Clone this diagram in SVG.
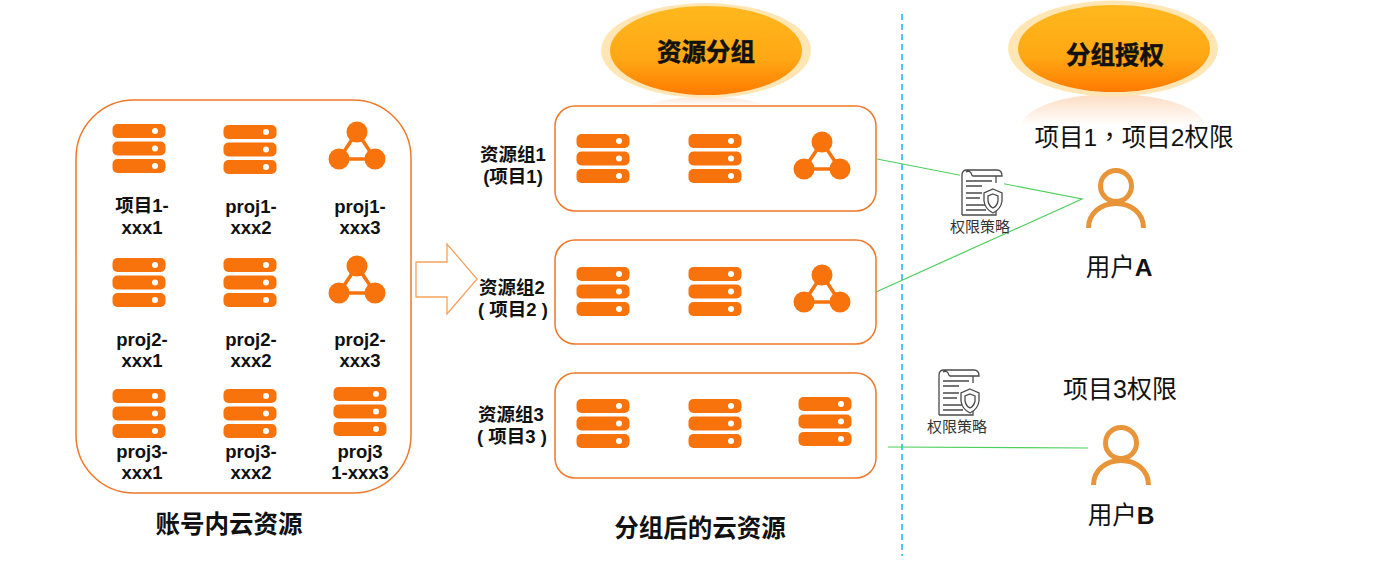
<svg xmlns="http://www.w3.org/2000/svg" width="1400" height="561" viewBox="0 0 1400 561">
<style>
text{font-family:"Liberation Sans","Noto Sans CJK SC",sans-serif;fill:#111;text-anchor:middle}
.b{font-weight:700}
.s16{font-size:18.5px}
.s22{font-size:24.500px}
.cap{font-size:15px;fill:#333}
.panel{fill:#fff;stroke:#f0782a;stroke-width:1.5}
.link{fill:none;stroke:#4ccf5c;stroke-width:1.2}
.ink{fill:none;stroke:#4a4a4a;stroke-width:1.3}
.user{fill:none;stroke:#e8953a;stroke-width:5}
.bar{fill:#f9730c}
</style>
<defs>
<symbol id="server" overflow="visible">
<rect class="bar" x="-.5" y="0" width="53" height="14" rx="5"/><circle cx="42" cy="7" r="3" fill="#fff"/>
<rect class="bar" x="-.5" y="17.500" width="53" height="14" rx="5"/><circle cx="42" cy="24.500" r="3" fill="#fff"/>
<rect class="bar" x="-.5" y="35" width="53" height="14" rx="5"/><circle cx="42" cy="42" r="3" fill="#fff"/>
</symbol>
<symbol id="net" overflow="visible">
<path d="M0 0L-18 27H18Z" fill="none" stroke="#f9730c" stroke-width="3.500"/>
<circle cx="0" cy="0" r="10.500" fill="#f9730c"/><circle cx="-18" cy="27" r="10.500" fill="#f9730c"/><circle cx="18" cy="27" r="10.500" fill="#f9730c"/>
</symbol>
<symbol id="policy" overflow="visible">
<path class="ink" d="M1 46V6Q1 1 6 1H36Q41 1 41 7H12Q11 7 10 4Q8 1 5 3"/>
<path class="ink" d="M1 46H35V30M35 14V7"/>
<path class="ink" d="M5 12H31M5 17H21M5 24H21M5 29H19M5 36H24M5 41H25"/>
<path d="M32 20L41 24V32Q40 40 32 44Q24 40 23 32V24Z" fill="#fff" stroke="#4a4a4a" stroke-width="1.300"/>
<path class="ink" d="M32 25L37 27V32Q36 37 32 39Q28 37 27 32V27Z"/>
</symbol>
<symbol id="person" overflow="visible">
<circle cx="0" cy="0" r="15.500" class="user"/>
<path class="user" d="M-27.500 42C-27.500 27-15 17.500 0 17.500S27.500 27 27.500 42"/>
</symbol>
<linearGradient id="pill" x1="0" y1="0" x2="0" y2="1"><stop offset="0" stop-color="#ffb81e"/><stop offset=".6" stop-color="#ffa714"/><stop offset="1" stop-color="#ff7a00"/></linearGradient>
<linearGradient id="glow-a" gradientUnits="userSpaceOnUse" x1="0" y1="96" x2="0" y2="106"><stop offset="0" stop-color="#fbe3d0"/><stop offset="1" stop-color="#fff"/></linearGradient>
<linearGradient id="glow-b" gradientUnits="userSpaceOnUse" x1="0" y1="94" x2="0" y2="126"><stop offset="0" stop-color="#fcdcc2"/><stop offset="1" stop-color="#fff"/></linearGradient>
</defs>
<rect width="1400" height="561" fill="#fff"/>

<g id="divider"><path d="M902 14V556" fill="none" stroke="#19b4ef" stroke-width="1.500" stroke-dasharray="6 4"/></g>

<g id="badge-group">
<ellipse cx="706" cy="110" rx="62" ry="13" fill="url(#glow-a)"/>
<ellipse cx="706" cy="50.500" rx="105" ry="47.500" fill="#ffe6b4"/>
<ellipse cx="706" cy="50.500" rx="96" ry="44.500" fill="url(#pill)"/>
<text class="b" x="706" y="61" font-size="24.500" style="stroke:#111;stroke-width:.5">资源分组</text>
</g>
<g id="badge-auth">
<ellipse cx="1113" cy="127" rx="92" ry="33" fill="url(#glow-b)"/>
<rect x="1020" y="126" width="190" height="40" fill="#fff"/>
<ellipse cx="1113" cy="48.500" rx="105" ry="48" fill="#ffe6b4"/>
<ellipse cx="1114" cy="48.500" rx="96" ry="43.500" fill="url(#pill)"/>
<text class="b" x="1115" y="64" font-size="24.500" style="stroke:#111;stroke-width:.5">分组授权</text>
</g>

<g id="account-resources">
<rect class="panel" x="76" y="100" width="335" height="393" rx="58"/>
<use href="#server" x="113" y="124"/><use href="#server" x="224" y="125"/><use href="#net" x="357" y="132"/>
<use href="#server" x="113" y="258"/><use href="#server" x="224" y="258"/><use href="#net" x="357" y="266"/>
<use href="#server" x="113" y="389"/><use href="#server" x="224" y="389"/><use href="#server" x="334" y="387"/>
<text class="b s16" x="142" y="212">项目1-</text><text class="b s16" x="142" y="234">xxx1</text>
<text class="b s16" x="251" y="213">proj1-</text><text class="b s16" x="251" y="234">xxx2</text>
<text class="b s16" x="360" y="213">proj1-</text><text class="b s16" x="360" y="234">xxx3</text>
<text class="b s16" x="142" y="346">proj2-</text><text class="b s16" x="142" y="367">xxx1</text>
<text class="b s16" x="251" y="346">proj2-</text><text class="b s16" x="251" y="367">xxx2</text>
<text class="b s16" x="360" y="346">proj2-</text><text class="b s16" x="360" y="367">xxx3</text>
<text class="b s16" x="142" y="458">proj3-</text><text class="b s16" x="142" y="479">xxx1</text>
<text class="b s16" x="251" y="458">proj3-</text><text class="b s16" x="251" y="479">xxx2</text>
<text class="b s16" x="360" y="458">proj3</text><text class="b s16" x="360" y="479">1-xxx3</text>
<text class="b s22" x="229" y="533">账号内云资源</text>
</g>

<g id="flow-arrow"><path d="M416 262H447V244L477 279L447 314V297H416Z" fill="#fff" stroke="#f7a25c" stroke-width="1.300"/></g>

<g id="connectors">
<path class="link" d="M877 159L1082 199L876 292"/>
<path class="link" d="M888 447L1088 448" stroke-width="1.500"/>
</g>

<g id="group-1">
<rect class="panel" x="555" y="106" width="321" height="105" rx="20"/>
<use href="#server" x="577" y="134"/><use href="#server" x="689" y="134"/><use href="#net" x="822" y="142"/>
<text class="b s16" x="513" y="161">资源组1</text><text class="b s16" x="513" y="183">(项目1)</text>
</g>
<g id="group-2">
<rect class="panel" x="555" y="240" width="321" height="104" rx="20"/>
<use href="#server" x="577" y="267"/><use href="#server" x="689" y="267"/><use href="#net" x="822" y="275"/>
<text class="b s16" x="512" y="294">资源组2</text><text class="b s16" x="513" y="316">(  项目2  )</text>
</g>
<g id="group-3">
<rect class="panel" x="555" y="373" width="321" height="105" rx="20"/>
<use href="#server" x="577" y="399"/><use href="#server" x="689" y="399"/><use href="#server" x="799" y="397"/>
<text class="b s16" x="511" y="421">资源组3</text><text class="b s16" x="512" y="443">(  项目3  )</text>
<text class="b s22" x="700" y="537">分组后的云资源</text>
</g>

<g id="policy-a">
<rect x="960" y="170" width="44" height="46" fill="#fff"/>
<use href="#policy" x="961" y="169"/>
<text class="cap" x="980" y="232">权限策略</text>
</g>
<g id="policy-b">
<use href="#policy" x="938" y="369"/>
<text class="cap" x="957" y="432">权限策略</text>
</g>

<g id="user-a">
<text x="1134" y="146" font-size="24.500">项目1<tspan style="font-family:'Noto Sans CJK TC',sans-serif">，</tspan>项目2权限</text>
<use href="#person" x="1116" y="186"/>
<text x="1119" y="276" font-size="24.500">用户<tspan class="b">A</tspan></text>
</g>
<g id="user-b">
<text x="1120" y="398" font-size="25">项目3权限</text>
<use href="#person" x="1121" y="443"/>
<text x="1121" y="524" font-size="24.500">用户<tspan class="b">B</tspan></text>
</g>
</svg>
